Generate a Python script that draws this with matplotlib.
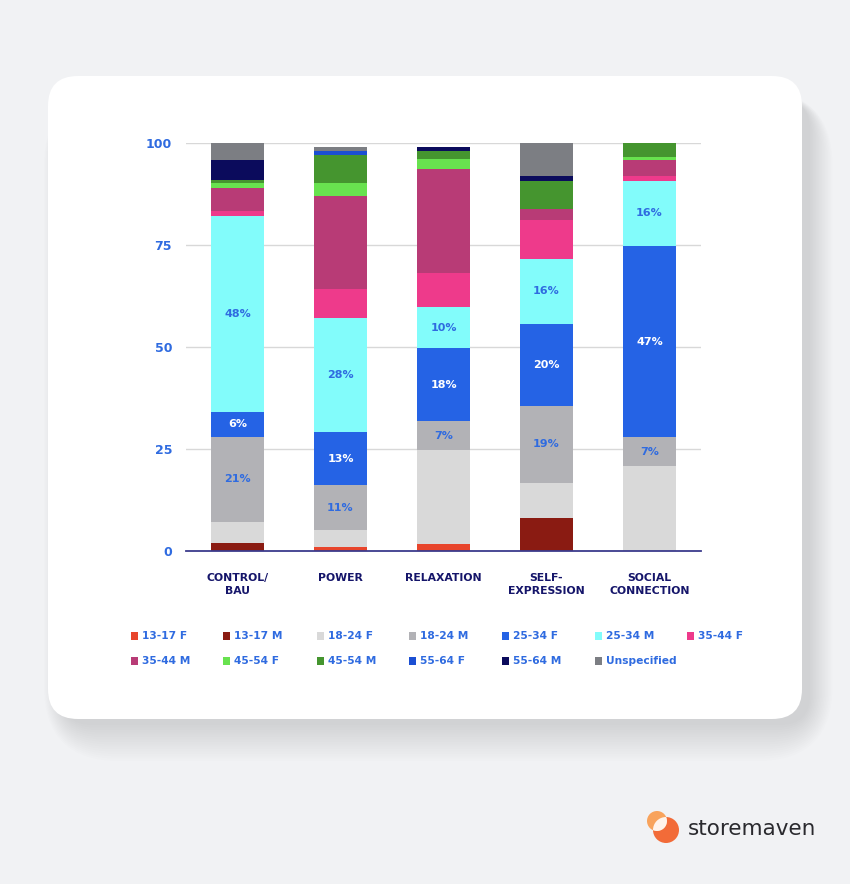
import numpy as np
import matplotlib.pyplot as plt
from matplotlib.patches import FancyBboxPatch, Rectangle, Circle

# --- data (percent of each audience, by creative theme) ---
categories = ['CONTROL/\nBAU', 'POWER', 'RELAXATION', 'SELF-\nEXPRESSION', 'SOCIAL\nCONNECTION']

segments = ['13-17 F', '13-17 M', '18-24 F', '18-24 M', '25-34 F', '25-34 M', '35-44 F',
            '35-44 M', '45-54 F', '45-54 M', '55-64 F', '55-64 M', 'Unspecified']

f13_17 = [0, 1, 1.6, 0, 0]
m13_17 = [2, 0, 0, 8, 0]
f18_24 = [5, 4, 23.1, 8.6, 20.8]
m18_24 = [21, 11, 7, 19, 7]
f25_34 = [6, 13, 18, 20, 47]
m25_34 = [48, 28, 10, 16, 16]
f35_44 = [1.4, 7.3, 8.3, 9.4, 1]
m35_44 = [5.5, 22.8, 25.7, 2.7, 4]
f45_54 = [1.2, 3.1, 2.3, 0, 0.8]
m45_54 = [0.8, 6.9, 2, 7, 3.3]
f55_64 = [0, 1, 0, 0, 0]
m55_64 = [5, 0, 0.9, 1.2, 0]
unspec = [4.1, 0.9, 0, 8, 0]

series = [f13_17, m13_17, f18_24, m18_24, f25_34, m25_34, f35_44,
          m35_44, f45_54, m45_54, f55_64, m55_64, unspec]

colors = ['#e8452c', '#8a1b12', '#d9d9d9', '#b2b2b6', '#2563e5', '#82fcfb', '#ee3a8b',
          '#b83b76', '#68e24f', '#45952f', '#1b4fd3', '#0b0b5c', '#7c7e83']

# segments that carry a value label, and the label colour
labeled = {'18-24 M': '#2f6be0', '25-34 F': 'white', '25-34 M': '#2f6be0'}

blue = '#2f6be0'
navy = '#15156a'

W, H = 850, 884
fig = plt.figure(figsize=(W / 100, H / 100), dpi=100)
fig.patch.set_facecolor('#f1f2f4')

# background layer in pixel coordinates
bg = fig.add_axes([0, 0, 1, 1])
bg.set_xlim(0, W)
bg.set_ylim(H, 0)
bg.axis('off')

# soft shadow under the card, pushed down and to the right
for i in range(16):
    g = 3 * i
    bg.add_patch(FancyBboxPatch((62 - g * 0.4, 100 - g * 0.2), 748 + g * 0.9, 625 + g * 1.0,
                                boxstyle='round,pad=0,rounding_size=%d' % (30 + g),
                                facecolor='#80838b', edgecolor='none', alpha=0.016, zorder=1))
bg.add_patch(FancyBboxPatch((48, 76), 754, 643, boxstyle='round,pad=0,rounding_size=30',
                            facecolor='white', edgecolor='none', zorder=2))

# storemaven logo
big = Circle((666, 830), 13, facecolor='#f26b38', edgecolor='none', zorder=3)
small = Circle((657, 821), 10, facecolor='#f8a35c', edgecolor='none', zorder=3)
bg.add_patch(big)
bg.add_patch(small)
lens = Circle((657, 821), 10, facecolor='#fff3ea', edgecolor='none', zorder=4)
bg.add_patch(lens)
lens.set_clip_path(big)
bg.text(688, 829, 'storemaven', fontsize=15.5, color='#2a2a2e', va='center', ha='left', zorder=4)

# --- chart ---
ax = fig.add_axes([186 / W, 1 - 550.7 / H, (701 - 186) / W, (550.7 - 143) / H])
ax.set_facecolor('none')
x = np.arange(len(categories))
bottom = np.zeros(len(categories))
for name, vals, col in zip(segments, series, colors):
    vals = np.array(vals, dtype=float)
    ax.bar(x, vals, bottom=bottom, width=0.505, color=col, edgecolor='none', zorder=3, clip_on=False)
    if name in labeled:
        for xi, b, v in zip(x, bottom, vals):
            ax.text(xi, b + v / 2, '%d%%' % round(v), ha='center', va='center', fontsize=8,
                    fontweight='bold', color=labeled[name], zorder=4)
    bottom += vals

ax.set_xlim(-0.5, 4.5)
ax.set_ylim(0, 100)
ax.set_yticks([0, 25, 50, 75, 100])
for yv in [25, 50, 75, 100]:
    ax.axhline(yv, color='#d8d8d8', lw=1, zorder=1)
ax.axhline(0, color='#3b3b8c', lw=1.3, zorder=5, clip_on=False)
ax.tick_params(axis='y', length=0, pad=10, labelsize=9, labelcolor=blue)
for t in ax.get_yticklabels():
    t.set_fontweight('bold')
ax.set_xticks(x)
ax.set_xticklabels(categories, fontsize=7.8, fontweight='bold', color=navy, linespacing=1.4)
ax.tick_params(axis='x', length=0, pad=16)
for s in ax.spines.values():
    s.set_visible(False)

# legend laid out on a grid like the original
leg_x = [131, 223, 317, 409, 502, 595, 687]
leg_y = [636, 661]
for i, (name, col) in enumerate(zip(segments, colors)):
    r, c = divmod(i, 7)
    bg.add_patch(Rectangle((leg_x[c], leg_y[r] - 4), 7.5, 7.5, facecolor=col, edgecolor='none', zorder=3))
    bg.text(leg_x[c] + 11, leg_y[r], name, fontsize=7.7, fontweight='bold', color=blue,
            va='center', ha='left', zorder=3)

fig.savefig('out.png', dpi=100, facecolor=fig.get_facecolor())
